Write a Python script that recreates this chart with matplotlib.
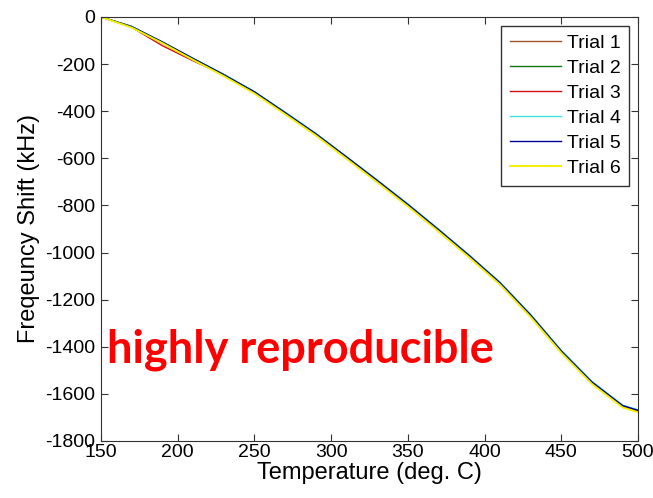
import matplotlib
matplotlib.use('Agg')
from matplotlib import pyplot as plt

# temperature grid (deg. C) shared by all trials
temperature = [150, 170, 190, 210, 230, 250, 270, 290, 310, 330,
               350, 370, 390, 410, 430, 450, 470, 490, 500]

# frequency shift (kHz)
trial_1 = [0, -40, -112, -180, -245, -319, -407, -497, -597, -695,
           -797, -904, -1014, -1129, -1267, -1419, -1551, -1651, -1671]
trial_2 = [0, -41, -107, -177, -244, -318, -406, -496, -595, -694,
           -796, -903, -1013, -1128, -1266, -1418, -1550, -1650, -1670]
trial_3 = [0, -44, -122, -186, -247, -321, -409, -499, -597, -697,
           -799, -906, -1016, -1131, -1268, -1421, -1553, -1653, -1673]
trial_4 = [0, -40, -106, -176, -244, -317, -404, -494, -593, -692,
           -794, -901, -1011, -1126, -1263, -1415, -1547, -1648, -1668]
trial_5 = [0, -41, -106, -176, -245, -318, -406, -496, -594, -694,
           -796, -903, -1013, -1128, -1265, -1418, -1550, -1650, -1670]
trial_6 = [0, -45, -111, -182, -251, -325, -413, -503, -602, -702,
           -804, -911, -1021, -1136, -1274, -1426, -1558, -1658, -1678]

trials = [trial_1, trial_2, trial_3, trial_4, trial_5, trial_6]
labels = ['Trial 1', 'Trial 2', 'Trial 3', 'Trial 4', 'Trial 5', 'Trial 6']
colors = ['#a0522d', '#107a10', '#d01010', '#40e0e0', '#000090', '#f2f200']

x_ticks = [150, 200, 250, 300, 350, 400, 450, 500]
y_ticks = [0, -200, -400, -600, -800, -1000, -1200, -1400, -1600, -1800]

plt.rcParams['font.family'] = ['Liberation Sans', 'DejaVu Sans']
plt.rcParams['axes.unicode_minus'] = False

fig = plt.figure(figsize=(6.53, 4.98), dpi=100)
ax = fig.add_axes([0.1547, 0.1145, 0.8223, 0.8514])

for vals, lab, col in zip(trials, labels, colors):
    lw = 1.4 if lab == 'Trial 6' else 1.0
    ax.plot(temperature, vals, color=col, linewidth=lw, label=lab)

ax.set_xlim(150, 500)
ax.set_ylim(-1800, 0)
ax.set_xticks(x_ticks)
ax.set_yticks(y_ticks)
ax.tick_params(direction='in', top=True, right=True, labelsize=14,
               length=5, color='#333333')
ax.tick_params(axis='x', pad=2)
ax.tick_params(axis='y', pad=4)
for s in ax.spines.values():
    s.set_color('#333333')

ax.set_xlabel('Temperature (deg. C)', fontsize=17, labelpad=1)
ax.set_ylabel('Freqeuncy Shift (kHz)', fontsize=17, labelpad=4)

leg = ax.legend(loc='upper right', fontsize=14, handlelength=2.6,
                handletextpad=0.3, fancybox=False, framealpha=1,
                borderaxespad=0.45, labelspacing=0.38, borderpad=0.45)
leg.get_frame().set_edgecolor('#333333')

ax.text(0.012, 0.185, 'highly reproducible', transform=ax.transAxes,
        color='#ff0000', fontsize=32.5, fontweight='bold',
        family=['Lato', 'DejaVu Sans'], va='baseline', ha='left')

fig.savefig('out.png', dpi=100)
